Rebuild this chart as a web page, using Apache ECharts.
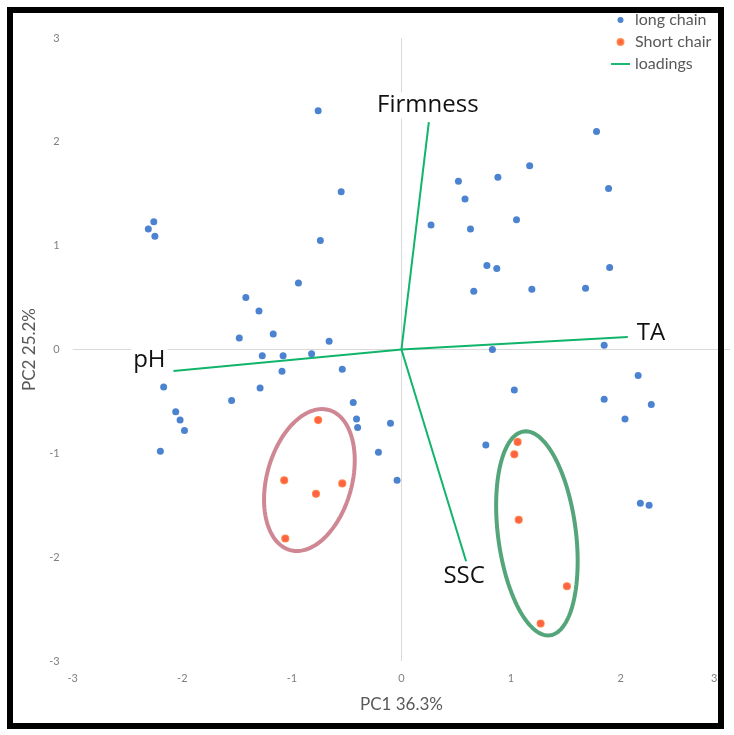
<!DOCTYPE html>
<html><head><meta charset="utf-8">
<script src="https://cdn.jsdelivr.net/npm/echarts@6/dist/echarts.min.js"></script>
<style>html,body{margin:0;padding:0;background:#fff}#c{width:734px;height:735px}</style>
</head><body><div id="c"></div>
<script>
// ---- data ----
const xTicks = [-3, -2, -1, 0, 1, 2, 3];
const yTicks = [-3, -2, -1, 0, 1, 2, 3];
const xTitle = 'PC1 36.3%';
const yTitle = 'PC2 25.2%';
const seriesNames = ['long chain', 'Short chair', 'loadings'];

const longChainX = [-0.76, -0.55, -2.26, -2.31, -2.25, -0.74, -0.94, -1.42, -1.30, -1.48, -1.17, -0.66, -1.27, -1.08, -0.82, -1.09, -0.54, -2.17, -1.29, -1.55, -0.44, -2.06, -2.02, -1.98, -0.41, -0.40, -0.10, -2.20, -0.21, -0.04,
  1.78, 1.17, 0.52, 0.88, 1.89, 0.58, 1.05, 0.27, 0.63, 0.78, 0.87, 1.90, 0.66, 1.19, 1.68, 0.83, 1.85, 2.16, 1.03, 1.85, 2.28, 2.04, 0.77, 2.18, 2.26];
const longChainY = [2.30, 1.52, 1.23, 1.16, 1.09, 1.05, 0.64, 0.50, 0.37, 0.11, 0.15, 0.08, -0.06, -0.06, -0.04, -0.21, -0.19, -0.36, -0.37, -0.49, -0.51, -0.60, -0.68, -0.78, -0.67, -0.75, -0.71, -0.98, -0.99, -1.26,
  2.10, 1.77, 1.62, 1.66, 1.55, 1.45, 1.25, 1.20, 1.16, 0.81, 0.78, 0.79, 0.56, 0.58, 0.59, 0.00, 0.04, -0.25, -0.39, -0.48, -0.53, -0.67, -0.92, -1.48, -1.50];

const shortChainX = [-0.76, -1.07, -0.54, -0.78, -1.06, 1.06, 1.03, 1.07, 1.51, 1.27];
const shortChainY = [-0.68, -1.26, -1.29, -1.39, -1.82, -0.89, -1.01, -1.64, -2.28, -2.64];

const loadingNames = ['Firmness', 'TA', 'pH', 'SSC'];
const loadingX = [0.25, 2.065, -2.08, 0.59];
const loadingY = [2.19, 0.12, -0.207, -2.04];

// group ellipses (centre, semi-axes in axis units, tilt in degrees)
const ellipseCx = [-0.84, 1.236];
const ellipseCy = [-1.257, -1.771];
const ellipseA = [0.70, 0.99];
const ellipseB = [0.41, 0.375];
const ellipseTilt = [15.4, -7.3];
const ellipseColors = ['#cf8793', '#55a57b'];

// ---- chart ----
const chart = echarts.init(document.getElementById('c'), null, {renderer: 'canvas'});
const xMax = xTicks[xTicks.length - 1];

const labelPlacement = {
  'Firmness': {dx: -1, dy: -16.5, align: 'center'},
  'TA': {dx: 7, dy: -3.5, align: 'left'},
  'pH': {dx: -6, dy: -11, align: 'right'},
  'SSC': {dx: -2, dy: 15, align: 'center'}
};

const option = {
  animation: false,
  backgroundColor: '#fff',
  grid: {left: 72.7, right: 3.8, top: 38, bottom: 74},
  legend: {
    orient: 'vertical', left: 606, top: 7,
    itemWidth: 19, itemHeight: 6, itemGap: 6,
    textStyle: {fontFamily: 'Lato', fontSize: 16, color: '#595959'},
    data: [
      {name: seriesNames[0], icon: 'circle'},
      {name: seriesNames[1], icon: 'circle'},
      {name: seriesNames[2], icon: 'path://M0,0H20V2H0Z'}
    ]
  },
  xAxis: {
    type: 'value', min: xTicks[0], max: xMax, interval: 1,
    axisLine: {show: false}, axisTick: {show: false}, splitLine: {show: false},
    axisLabel: {
      margin: 12, fontFamily: 'Lato', fontSize: 11, color: '#808080',
      formatter: v => v === xMax ? '{m|' + v + '}' : String(v),
      rich: {m: {padding: [0, 32, 0, 0], fontFamily: 'Lato', fontSize: 11, color: '#808080'}}
    },
    name: xTitle, nameLocation: 'middle', nameGap: 35,
    nameTextStyle: {fontFamily: 'Lato', fontSize: 17, color: '#595959'}
  },
  yAxis: {
    type: 'value', min: yTicks[0], max: yTicks[yTicks.length - 1], interval: 1,
    axisLine: {show: false}, axisTick: {show: false}, splitLine: {show: false},
    axisLabel: {margin: 13, fontFamily: 'Lato', fontSize: 11, color: '#808080'},
    name: yTitle, nameLocation: 'middle', nameGap: 33,
    nameTextStyle: {fontFamily: 'Lato', fontSize: 17, color: '#595959'}
  },
  series: [
    {
      type: 'custom', name: 'groups', silent: true, z: 1,
      data: ellipseCx.map((cx, i) => [cx, ellipseCy[i], ellipseA[i], ellipseB[i], ellipseTilt[i], i]),
      renderItem: (params, api) => {
        const c = api.coord([api.value(0), api.value(1)]);
        const unit = api.size([1, 1])[1];
        const a = api.value(2) * unit, b = api.value(3) * unit;
        const th = api.value(4) * Math.PI / 180;
        const pts = [];
        for (let k = 0; k < 120; k++) {
          const t = k / 120 * Math.PI * 2;
          const x = b * Math.cos(t), y = -a * Math.sin(t);
          pts.push([c[0] + x * Math.cos(th) - y * Math.sin(th), c[1] + x * Math.sin(th) + y * Math.cos(th)]);
        }
        return {type: 'polygon', shape: {points: pts},
          style: {fill: 'none', stroke: ellipseColors[api.value(5)], lineWidth: 4}};
      },
      encode: {x: 0, y: 1}
    },
    {
      type: 'scatter', name: seriesNames[0], z: 3,
      symbolSize: 7, itemStyle: {color: '#1f64c6'},
      data: longChainX.map((x, i) => [x, longChainY[i]]),
      markLine: {
        silent: true, symbol: 'none', z: 0,
        lineStyle: {color: '#d9d9d9', width: 1, type: 'solid'},
        label: {show: false},
        data: [{xAxis: 0}, {yAxis: 0}]
      }
    },
    {
      type: 'scatter', name: seriesNames[1], z: 3,
      symbolSize: 7, itemStyle: {color: '#ff3c18', borderColor: '#ff7a33', borderWidth: 1.2},
      data: shortChainX.map((x, i) => [x, shortChainY[i]])
    },
    {
      type: 'custom', name: seriesNames[2], z: 4, silent: true,
      itemStyle: {color: '#10b46a'},
      data: loadingX.map((x, i) => [x, loadingY[i], i]),
      renderItem: (params, api) => {
        const o = api.coord([0, 0]);
        const e = api.coord([api.value(0), api.value(1)]);
        const nm = loadingNames[api.value(2)];
        const p = labelPlacement[nm];
        return {type: 'group', children: [
          {type: 'line', shape: {x1: o[0], y1: o[1], x2: e[0], y2: e[1]},
            style: {stroke: '#10b46a', lineWidth: 2}},
          {type: 'text', z2: 10, x: e[0] + p.dx, y: e[1] + p.dy,
            style: {text: nm, fontFamily: 'Open Sans', fontSize: 24, fill: '#111',
              align: p.align, verticalAlign: 'middle', backgroundColor: '#fff', padding: [1, 2]}}
        ]};
      },
      encode: {x: 0, y: 1}
    }
  ],
  graphic: [{
    type: 'rect', z: 100, silent: true,
    shape: {x: 10, y: 10, width: 711, height: 716},
    style: {fill: 'none', stroke: '#000', lineWidth: 6}
  }]
};
chart.setOption(option);
</script></body></html>
